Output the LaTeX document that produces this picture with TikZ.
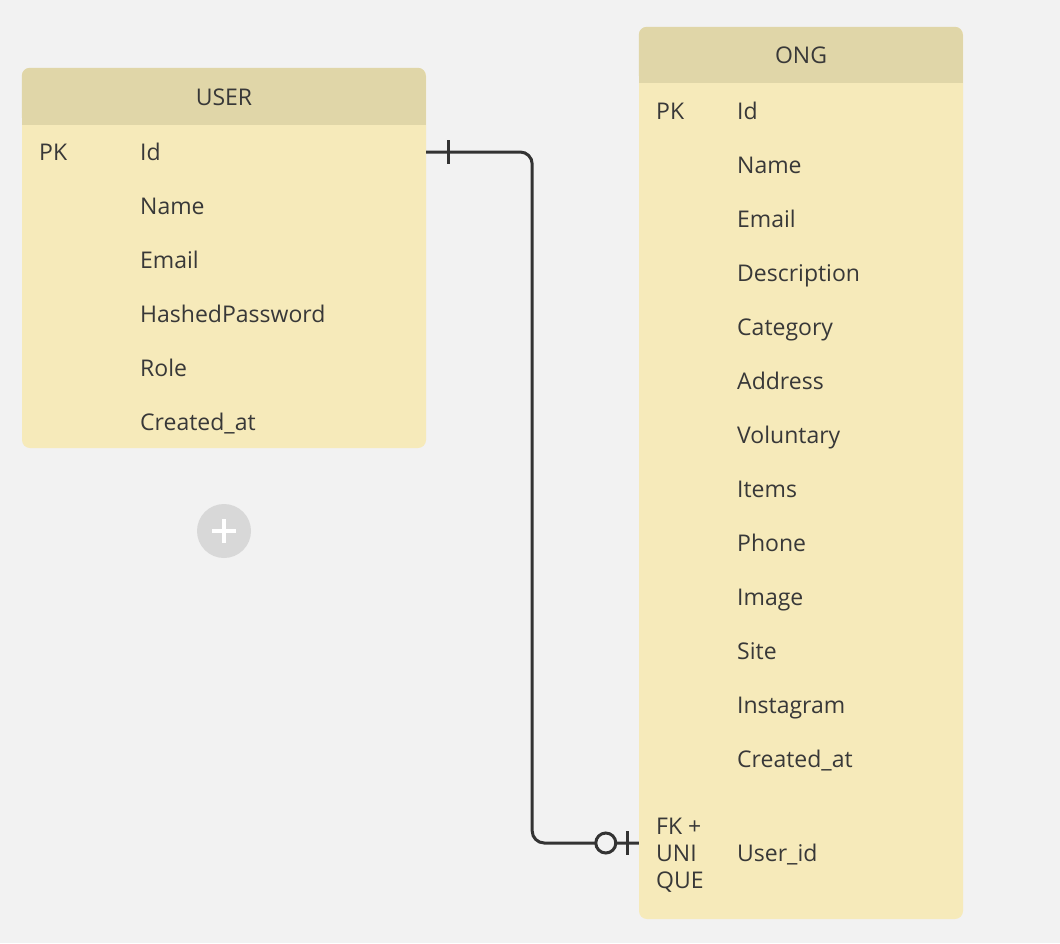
\documentclass[tikz,border=0pt]{standalone}
\usepackage{fontspec}
\setmainfont{Open Sans}
\usepackage{tikz}
\usetikzlibrary{positioning,calc}
\definecolor{bgGrey}{HTML}{F2F2F2}
\definecolor{headYellow}{HTML}{E0D6A8}
\definecolor{bodyYellow}{HTML}{F6EABA}
\definecolor{lineGrey}{HTML}{333333}
\definecolor{textGrey}{HTML}{383838}
\definecolor{plusGrey}{HTML}{D8D8D8}
\tikzset{
  tablebody/.style={fill=bodyYellow,rounded corners=8pt,inner sep=0pt},
  field/.style={anchor=west,inner sep=0pt,text=textGrey,text height=16.4pt,text depth=0pt,font=\fontsize{23}{27}\selectfont},
  tabletitle/.style={inner sep=0pt,text=textGrey,text height=16.4pt,text depth=0pt,font=\fontsize{23}{27}\selectfont},
  relation/.style={draw=lineGrey,line width=3pt}
}

\begin{document}
\begin{tikzpicture}[x=1pt,y=-1pt]
 %background
    \fill[bgGrey] (0,0) rectangle (1060,943);
    \useasboundingbox (0,0) rectangle (1060,943);
 %USER table
    \node[tablebody,minimum width=404pt,minimum height=380pt] (usertab) at (224,258) {};
    \fill[headYellow,rounded corners=8pt] (usertab.north west) rectangle ++(404,57);
    \fill[headYellow] ($(usertab.north west)+(0,30)$) rectangle ++(404,27);
    \node[tabletitle] (usertitle) at (224,97) {USER};
    \node[field] (userpk) at (39,152) {PK};
    \node[field] (uid) at (140,152) {Id};
    \node[field] (uname) at (140,206) {Name};
    \node[field] (uemail) at (140,260) {Email};
    \node[field] (upass) at (140,314) {HashedPassword};
    \node[field] (urole) at (140,368) {Role};
    \node[field] (ucreated) at (140,422) {Created\_at};
 %add button
    \node[circle,fill=plusGrey,minimum size=54pt,inner sep=0pt] (addbtn) at (224,531) {};
    \draw[white,line width=3.2pt] ($(addbtn)+(-12,0)$) -- ($(addbtn)+(12,0)$);
    \draw[white,line width=3.2pt] ($(addbtn)+(0,-12)$) -- ($(addbtn)+(0,12)$);
 %ONG table
    \node[tablebody,minimum width=324pt,minimum height=892pt] (ongtab) at (801,473) {};
    \fill[headYellow,rounded corners=8pt] (ongtab.north west) rectangle ++(324,56);
    \fill[headYellow] ($(ongtab.north west)+(0,30)$) rectangle ++(324,26);
    \node[tabletitle] (ongtitle) at (801,55) {ONG};
    \node[field] (ongpk) at (656,111) {PK};
    \node[field] (oid) at (737,111) {Id};
    \node[field] (oname) at (737,165) {Name};
    \node[field] (oemail) at (737,219) {Email};
    \node[field] (odesc) at (737,273) {Description};
    \node[field] (ocat) at (737,327) {Category};
    \node[field] (oaddr) at (737,381) {Address};
    \node[field] (ovol) at (737,435) {Voluntary};
    \node[field] (oitems) at (737,489) {Items};
    \node[field] (ophone) at (737,543) {Phone};
    \node[field] (oimage) at (737,597) {Image};
    \node[field] (osite) at (737,651) {Site};
    \node[field] (oinsta) at (737,705) {Instagram};
    \node[field] (ocreated) at (737,759) {Created\_at};
    \node[field,text height=,align=left,anchor=north west] (ongfk) at (656,817.8) {FK +\\UNI\\QUE};
    \node[field] (ouser) at (737,853) {User\_id};
 %relation USER -- ONG
    \draw[relation,rounded corners=12pt] (uid -| usertab.east) -- ++(106,0) |- ($(ouser -| ongtab.west)+(0,-10)$);
    \draw[relation] ($(uid -| usertab.east)+(22,-12)$) -- ++(0,24);
    \draw[relation] ($(ouser -| ongtab.west)+(-11,-22)$) -- ++(0,24);
    \draw[relation,fill=bgGrey] ($(ouser -| ongtab.west)+(-33,-10)$) circle(10);
\end{tikzpicture}
\end{document}
